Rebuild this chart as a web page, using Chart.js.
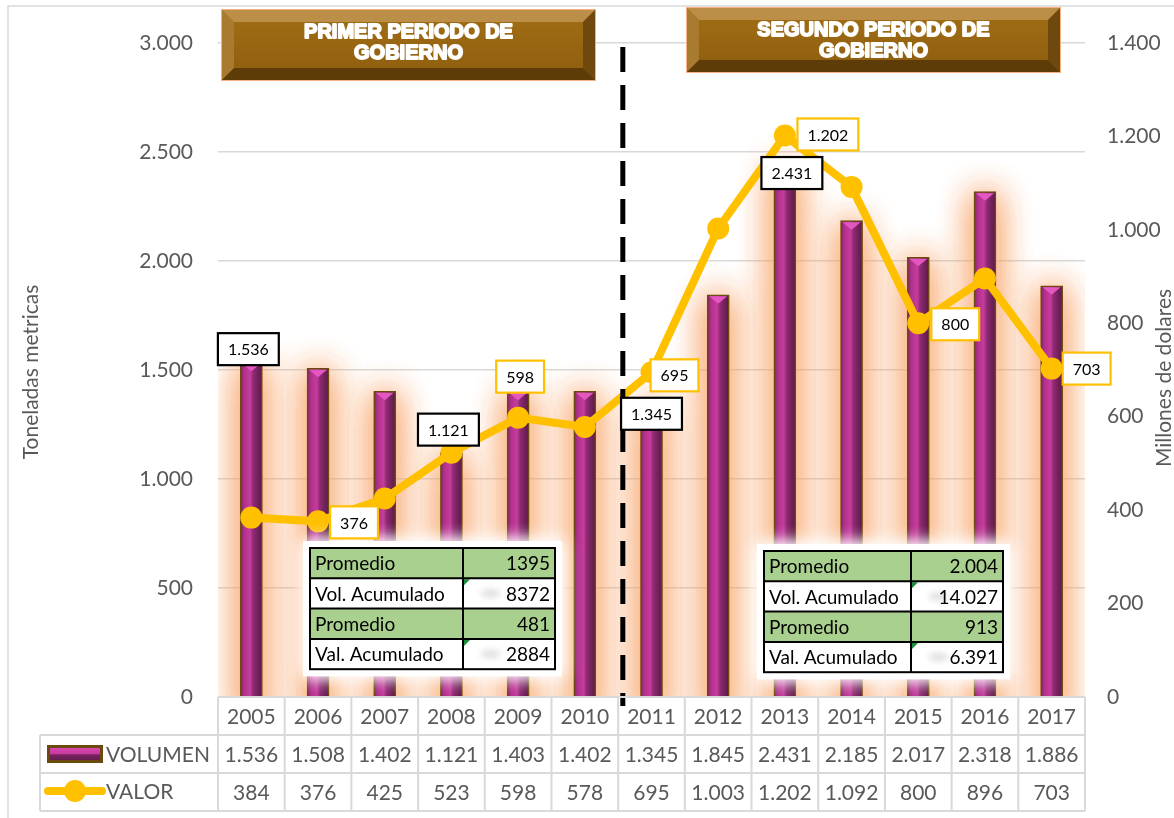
<!DOCTYPE html>
<html><head><meta charset="utf-8">
<script src="https://cdn.jsdelivr.net/npm/chart.js@4.4.0/dist/chart.umd.min.js"></script>
<style>html,body{margin:0;padding:0;background:#fff;}#wrap{width:1174px;height:818px;position:relative;}canvas{display:block;}</style>
</head><body><div id="wrap"><canvas id="c" width="1174" height="818"></canvas></div>
<script>
// ---- DATA ----
const years = ['2005','2006','2007','2008','2009','2010','2011','2012','2013','2014','2015','2016','2017'];
const volumen = [1536,1508,1402,1121,1403,1402,1345,1845,2431,2185,2017,2318,1886];
const valor = [384,376,425,523,598,578,695,1003,1202,1092,800,896,703];
const seriesNames = ['VOLUMEN','VALOR'];
const axisTitles = ['Toneladas metricas','Millones de dolares'];
const periodTitles = [['PRIMER PERIODO DE','GOBIERNO'],['SEGUNDO PERIODO DE','GOBIERNO']];
const summaryLabels = ['Promedio','Vol. Acumulado','Promedio','Val. Acumulado'];
const summary1Values = ['1395','8372','481','2884'];
const summary2Values = ['2.004','14.027','913','6.391'];
const volLabelIdx = [0,3,6,8];
const valLabelIdx = [1,4,6,8,10,12];
const leftMax = 3000, leftStep = 500, rightMax = 1400, rightStep = 200;

// ---- STYLE ----
const FONT = 'Lato';
const GREY = '#595959';
const YEL = '#FFC000';
const volLabelOffsets = {0:[-3,-13],3:[-3,-23],6:[0,10],8:[7,6]};
const valLabelOffsets = {1:[36,1],4:[2,-41],6:[23,3],8:[43,-1],10:[37,1],12:[35,0]};

function fmt(n){ return String(n).replace(/\B(?=(\d{3})+(?!\d))/g,'.'); }

function barGradient(ctx){
  const chart = ctx.chart;
  if(!chart.chartArea || !chart.scales.x) return '#B0308A';
  const x = chart.scales.x.getPixelForValue(ctx.dataIndex);
  const g = chart.ctx.createLinearGradient(x-11,0,x+11,0);
  g.addColorStop(0,'#7E2265');
  g.addColorStop(0.18,'#B2318C');
  g.addColorStop(0.45,'#C63C9D');
  g.addColorStop(0.58,'#8E2B72');
  g.addColorStop(1,'#5A1846');
  return g;
}

const glowPlugin = {
  id:'glow',
  beforeDatasetDraw(chart,args){
    if(args.index!==0) return;
    const c=chart.ctx, ca=chart.chartArea;
    const meta=chart.getDatasetMeta(0);
    c.save();
    c.beginPath(); c.rect(ca.left,ca.top-40,ca.right-ca.left,ca.bottom-ca.top+40); c.clip();
    c.shadowColor='rgba(248,158,95,0.95)'; c.shadowBlur=34;
    c.fillStyle='rgba(248,170,115,1)';
    for(let k=0;k<2;k++){
      meta.data.forEach(el=>{
        c.fillRect(el.x-el.width/2, el.y+2, el.width, el.base-el.y+30);
      });
    }
    c.restore();
  },
  afterDatasetDraw(chart,args){
    if(args.index!==0) return;
    const c=chart.ctx;
    const meta=chart.getDatasetMeta(0);
    c.save();
    meta.data.forEach(el=>{
      const w=el.width/2-2;
      c.beginPath(); c.moveTo(el.x-w,el.y+1.5); c.lineTo(el.x+w,el.y+1.5); c.lineTo(el.x,el.y+9); c.closePath();
      c.fillStyle='#E457C1'; c.fill();
    });
    c.restore();
  }
};

function labelBox(c,text,cx,cy,border){
  c.font = '16px '+FONT;
  const tw=c.measureText(text).width;
  const w=tw+20, h=32;
  c.fillStyle='#fff'; c.fillRect(cx-w/2,cy-h/2,w,h);
  c.lineWidth=2.2; c.strokeStyle=border; c.strokeRect(cx-w/2,cy-h/2,w,h);
  c.fillStyle='#000'; c.textAlign='center'; c.textBaseline='middle';
  c.fillText(text,cx,cy+1);
}

function summaryTable(c,x,y,w,split,rowH,labels,values){
  c.save();
  c.shadowColor='rgba(255,255,255,1)'; c.shadowBlur=16;
  c.fillStyle='rgba(255,255,255,0.93)';
  c.fillRect(x-7,y-7,w+14,rowH*4+14);
  c.fillRect(x-7,y-7,w+14,rowH*4+14);
  c.restore();
  for(let r=0;r<4;r++){
    const ry=y+r*rowH;
    c.fillStyle = (r%2===0)?'#A9D08E':'#FFFFFF';
    c.fillRect(x,ry,w,rowH);
    c.font='19px '+FONT; c.fillStyle='#000'; c.textBaseline='middle';
    c.textAlign='left'; c.fillText(labels[r],x+5,ry+rowH/2+1);
    c.textAlign='right'; c.fillText(values[r],x+w-5,ry+rowH/2+1);
    if(r%2===1){
      c.save(); c.filter='blur(3px)'; c.fillStyle='rgba(0,0,0,0.13)';
      c.beginPath(); c.ellipse(x+split+(w-split)*0.3,ry+rowH/2,10,4,0,0,Math.PI*2); c.fill(); c.restore();
      c.fillStyle='#1E8C3A'; c.beginPath(); c.moveTo(x+split+1,ry+1); c.lineTo(x+split+7,ry+1); c.lineTo(x+split+1,ry+7); c.closePath(); c.fill();
    }
  }
  c.strokeStyle='#000'; c.lineWidth=2;
  c.strokeRect(x,y,w,rowH*4);
  c.beginPath();
  for(let r=1;r<4;r++){ c.moveTo(x,y+r*rowH); c.lineTo(x+w,y+r*rowH); }
  c.moveTo(x+split,y); c.lineTo(x+split,y+rowH*4);
  c.stroke();
}

function banner(c,x,y,w,h,lines){
  const b=12;
  c.save();
  c.fillStyle='#F4B183'; c.fillRect(x-1,y-1,w+2,h+2);
  const fg=c.createLinearGradient(0,y,0,y+h);
  fg.addColorStop(0,'#A26E16'); fg.addColorStop(1,'#8E5E0E');
  c.fillStyle=fg; c.fillRect(x,y,w,h);
  c.fillStyle='#BC8F48';
  c.beginPath(); c.moveTo(x,y); c.lineTo(x+w,y); c.lineTo(x+w-b,y+b); c.lineTo(x+b,y+b); c.closePath(); c.fill();
  c.fillStyle='#A97B30';
  c.beginPath(); c.moveTo(x,y); c.lineTo(x+b,y+b); c.lineTo(x+b,y+h-b); c.lineTo(x,y+h); c.closePath(); c.fill();
  c.fillStyle='#5E3C08';
  c.beginPath(); c.moveTo(x,y+h); c.lineTo(x+b,y+h-b); c.lineTo(x+w-b,y+h-b); c.lineTo(x+w,y+h); c.closePath(); c.fill();
  c.fillStyle='#6E480C';
  c.beginPath(); c.moveTo(x+w,y); c.lineTo(x+w,y+h); c.lineTo(x+w-b,y+h-b); c.lineTo(x+w-b,y+b); c.closePath(); c.fill();
  c.font='bold 20px "Liberation Sans"'; c.textAlign='center'; c.textBaseline='middle';
  c.fillStyle='#fff'; c.strokeStyle='#fff'; c.lineWidth=1.8; c.lineJoin='round';
  lines.forEach((t,i)=>{ const ty=y+22+i*21; c.strokeText(t,x+w/2,ty); c.fillText(t,x+w/2,ty); });
  c.restore();
}

const overlayPlugin = {
  id:'overlay',
  afterDatasetsDraw(chart){
    const c=chart.ctx, xs=chart.scales.x, ca=chart.chartArea;
    const x5=xs.getPixelForValue(5), x6=xs.getPixelForValue(6);
    const dx=x5+(x6-x5)*0.57;
    c.save(); c.strokeStyle='#000'; c.lineWidth=5; c.setLineDash([25,13]);
    c.beginPath(); c.moveTo(dx,ca.top+4); c.lineTo(dx,ca.bottom+9); c.stroke(); c.restore();
    summaryTable(c,310,548,245,153,30.3,summaryLabels,summary1Values);
    summaryTable(c,764,551,239,147,30.3,summaryLabels,summary2Values);
    const mb=chart.getDatasetMeta(0), ml=chart.getDatasetMeta(1);
    c.save();
    volLabelIdx.forEach(i=>{ const el=mb.data[i], o=volLabelOffsets[i]; labelBox(c,fmt(volumen[i]),el.x+o[0],el.y+o[1],'#000'); });
    valLabelIdx.forEach(i=>{ const el=ml.data[i], o=valLabelOffsets[i]; labelBox(c,fmt(valor[i]),el.x+o[0],el.y+o[1],YEL); });
    c.restore();
    banner(c,222,10,373,70,periodTitles[0]);
    banner(c,687,8,373,64,periodTitles[1]);
  },
  afterDraw(chart){
    const c=chart.ctx, xs=chart.scales.x, ca=chart.chartArea;
    const cw=(ca.right-ca.left)/years.length;
    const r0=ca.bottom, r1=r0+38, r2=r1+38, r3=r2+38, lx=40;
    c.save();
    c.strokeStyle='#D9D9D9'; c.lineWidth=2;
    c.beginPath();
    c.moveTo(ca.left,r0); c.lineTo(ca.right,r0);
    [r1,r2,r3].forEach(y=>{ c.moveTo(lx,y); c.lineTo(ca.right,y); });
    for(let i=0;i<=years.length;i++){ const x=ca.left+i*cw; c.moveTo(x,r0); c.lineTo(x,r3); }
    c.moveTo(lx,r1); c.lineTo(lx,r3);
    c.stroke();
    c.font='21px '+FONT; c.fillStyle=GREY; c.textAlign='center'; c.textBaseline='middle';
    years.forEach((y,i)=>{
      const x=xs.getPixelForValue(i);
      c.fillText(y,x,(r0+r1)/2+1);
      c.fillText(fmt(volumen[i]),x,(r1+r2)/2+1);
      c.fillText(fmt(valor[i]),x,(r2+r3)/2+1);
    });
    const ky=(r1+r2)/2;
    c.fillStyle='#6B4A10'; c.fillRect(47,ky-9,56,18);
    const kg=c.createLinearGradient(0,ky-7,0,ky+7);
    kg.addColorStop(0,'#E048B4'); kg.addColorStop(0.5,'#C43A9C'); kg.addColorStop(0.55,'#7A2360'); kg.addColorStop(1,'#5E1A4A');
    c.fillStyle=kg; c.fillRect(50,ky-6,50,12);
    const vy=(r2+r3)/2-1;
    c.strokeStyle=YEL; c.lineWidth=8; c.lineCap='round';
    c.beginPath(); c.moveTo(48,vy); c.lineTo(102,vy); c.stroke();
    c.fillStyle=YEL; c.beginPath(); c.arc(75,vy,11,0,Math.PI*2); c.fill();
    c.fillStyle=GREY; c.textAlign='left';
    c.fillText(seriesNames[0],106,ky+1);
    c.fillText(seriesNames[1],106,vy+1);
    c.save(); c.translate(31,372); c.rotate(-Math.PI/2); c.textAlign='center'; c.fillText(axisTitles[0],0,0); c.restore();
    c.save(); c.translate(1164,378); c.rotate(-Math.PI/2); c.textAlign='center'; c.fillText(axisTitles[1],0,0); c.restore();
    c.strokeStyle='#D9D9D9'; c.lineWidth=1.5; c.strokeRect(8,6,1300,900);
    c.restore();
  }
};

new Chart(document.getElementById('c'),{
  data:{
    labels:years,
    datasets:[
      {type:'bar',label:seriesNames[0],data:volumen,yAxisID:'y',order:2,
       backgroundColor:barGradient,borderColor:'#6B4A10',borderWidth:1.5,barThickness:22},
      {type:'line',label:seriesNames[1],data:valor,yAxisID:'y1',order:1,
       borderColor:YEL,backgroundColor:YEL,borderWidth:8,pointRadius:11,pointBackgroundColor:YEL,pointBorderColor:YEL,pointBorderWidth:0,tension:0}
    ]
  },
  options:{
    responsive:false,animation:false,devicePixelRatio:1,
    layout:{padding:{top:43,bottom:121,left:0,right:0}},
    plugins:{legend:{display:false},tooltip:{enabled:false}},
    scales:{
      x:{type:'category',display:false,offset:true},
      y:{position:'left',min:0,max:leftMax,
         ticks:{stepSize:leftStep,padding:25,color:GREY,font:{family:FONT,size:21},callback:v=>fmt(v)},
         grid:{color:'#D9D9D9',lineWidth:1.5,drawTicks:false},border:{display:false},
         afterFit(s){s.width=218;}},
      y1:{position:'right',min:0,max:rightMax,
         ticks:{stepSize:rightStep,padding:22,color:GREY,font:{family:FONT,size:21},callback:v=>fmt(v)},
         grid:{display:false,drawTicks:false},border:{display:false},
         afterFit(s){s.width=89;}}
    }
  },
  plugins:[glowPlugin,overlayPlugin]
});
</script></body></html>
